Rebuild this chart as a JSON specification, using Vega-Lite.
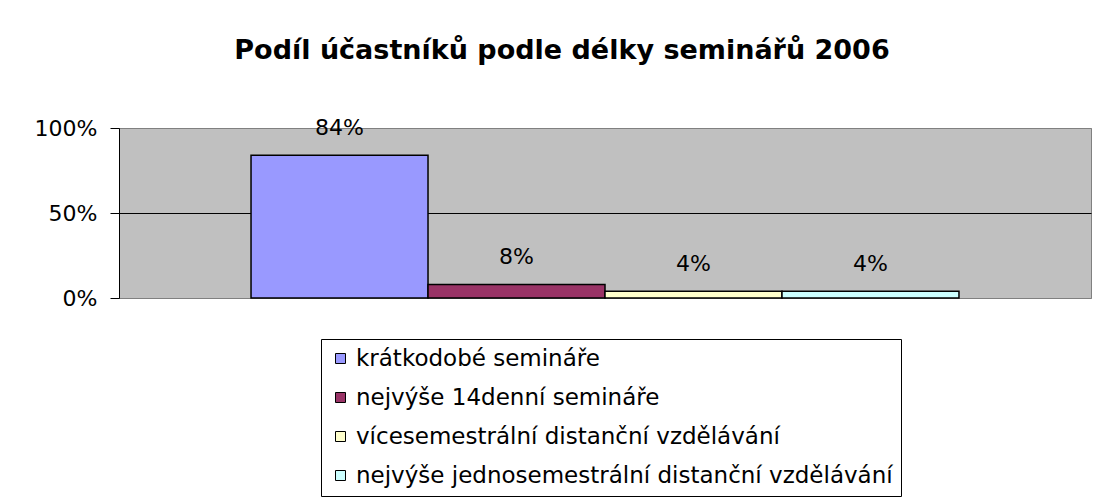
{
  "$schema": "https://vega.github.io/schema/vega-lite/v6.json",
  "width": 972,
  "height": 170,
  "autosize": {"type": "none"},
  "padding": {"left": 119, "top": 128, "right": 5, "bottom": 203},
  "background": "white",
  "title": {
    "text": "Podíl účastníků podle délky seminářů 2006",
    "font": "DejaVu Sans",
    "fontSize": 27,
    "fontWeight": "bold",
    "color": "black",
    "anchor": "middle",
    "dx": -43,
    "offset": 52
  },
  "data": {
    "values": [
      {"kategorie": "krátkodobé semináře", "podil": 0.84},
      {"kategorie": "nejvýše 14denní semináře", "podil": 0.08},
      {"kategorie": "vícesemestrální distanční vzdělávání", "podil": 0.04},
      {"kategorie": "nejvýše jednosemestrální distanční vzdělávání", "podil": 0.04}
    ]
  },
  "encoding": {
    "x": {
      "field": "kategorie",
      "type": "nominal",
      "sort": null,
      "scale": {"paddingInner": 0, "paddingOuter": 0.746},
      "axis": null
    },
    "y": {
      "field": "podil",
      "type": "quantitative",
      "scale": {"domain": [0, 1], "nice": false},
      "axis": {
        "title": null,
        "values": [0, 0.5, 1],
        "format": ".0%",
        "labelFont": "DejaVu Sans",
        "labelFontSize": 22,
        "labelColor": "black",
        "labelPadding": 13,
        "tickSize": 9,
        "tickColor": "black",
        "domainColor": "black",
        "grid": true,
        "gridColor": {"condition": {"test": "datum.value === 0.5", "value": "black"}, "value": "#808080"},
        "gridOpacity": 1
      }
    }
  },
  "layer": [
    {
      "mark": {"type": "bar", "stroke": "black", "strokeWidth": 1.5},
      "encoding": {
        "fill": {
          "field": "kategorie",
          "type": "nominal",
          "sort": null,
          "scale": {
            "domain": [
              "krátkodobé semináře",
              "nejvýše 14denní semináře",
              "vícesemestrální distanční vzdělávání",
              "nejvýše jednosemestrální distanční vzdělávání"
            ],
            "range": ["#9999FF", "#993366", "#FFFFCC", "#CCFFFF"]
          },
          "legend": {
            "title": null,
            "orient": "none",
            "legendX": 202,
            "legendY": 211,
            "direction": "vertical",
            "strokeColor": "black",
            "fillColor": "white",
            "padding": 8,
            "symbolType": "square",
            "symbolSize": 100,
            "symbolStrokeColor": "black",
            "symbolStrokeWidth": 1,
            "labelFont": "DejaVu Sans",
            "labelFontSize": 23,
            "labelColor": "black",
            "labelOffset": 4,
            "labelLimit": 0,
            "rowPadding": 15
          }
        }
      }
    },
    {
      "mark": {"type": "text", "font": "DejaVu Sans", "fontSize": 22, "color": "black", "baseline": "middle", "dy": -27},
      "encoding": {
        "text": {"field": "podil", "type": "quantitative", "format": ".0%"}
      }
    }
  ],
  "config": {
    "view": {"fill": "#C0C0C0", "stroke": "#808080", "strokeWidth": 1}
  }
}
